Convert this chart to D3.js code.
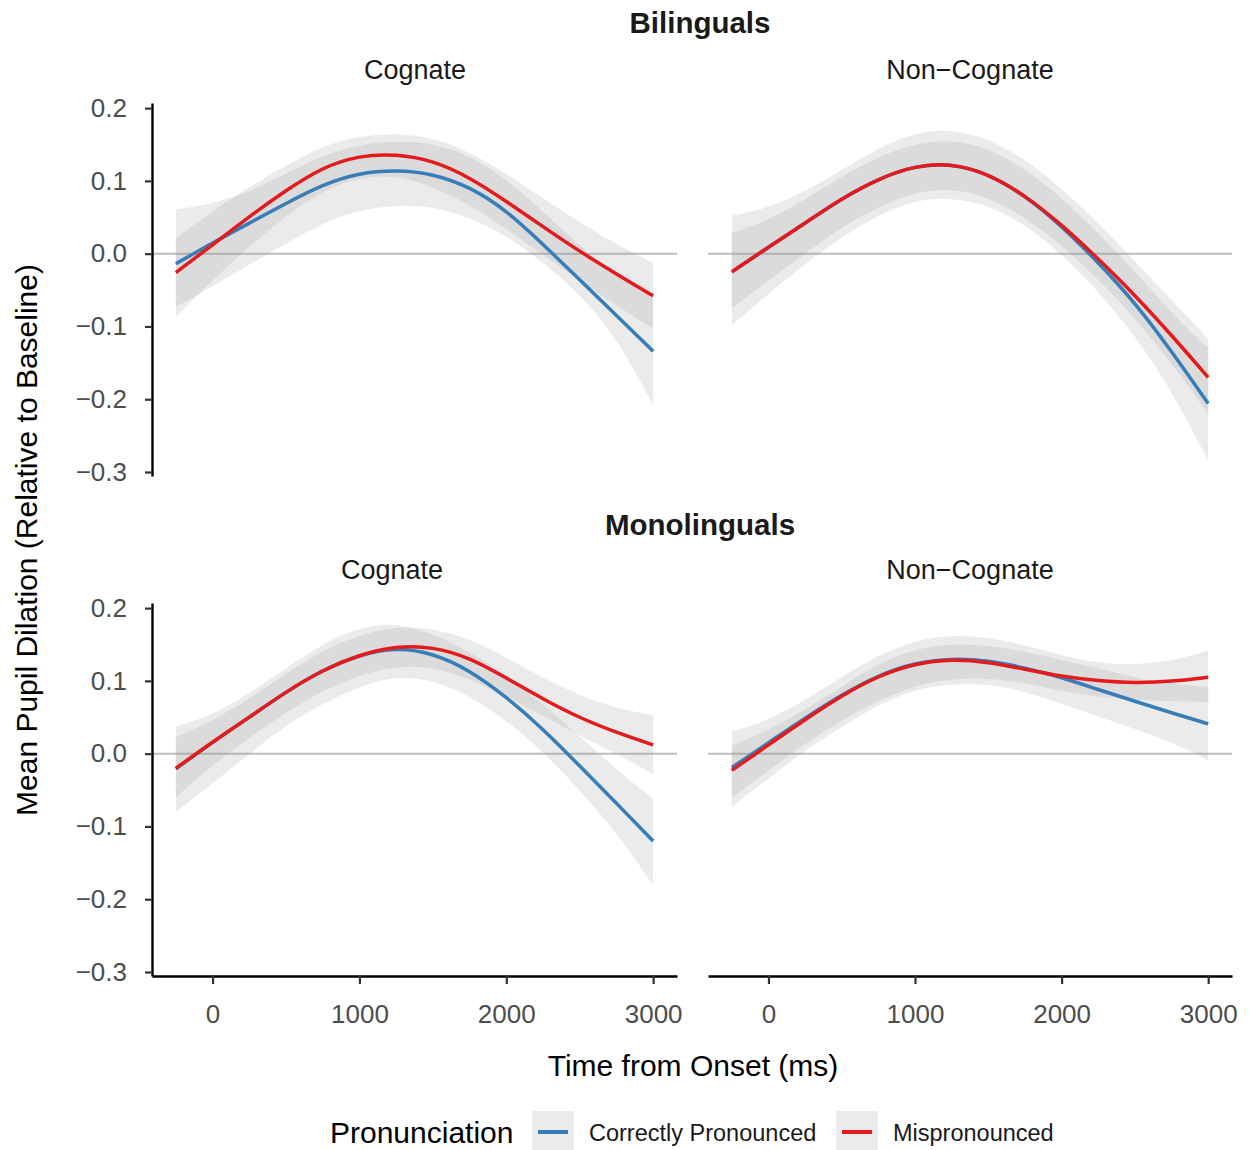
<!DOCTYPE html>
<html>
<head>
<meta charset="utf-8">
<script src="https://cdn.jsdelivr.net/npm/d3@7"></script>
<style>
  body { margin: 0; background: #fff; }
  text { font-family: "Liberation Sans", Arial, sans-serif; }
</style>
</head>
<body>
<div id="chart"></div>
<script>
const times = [-250, 0, 250, 500, 750, 1000, 1250, 1500, 1750, 2000, 2250, 2500, 2750, 3000];

// Bilinguals / Cognate
const biCogCorrect    = [-0.014, 0.015, 0.042, 0.069, 0.095, 0.111, 0.115, 0.110, 0.092, 0.060, 0.013, -0.036, -0.085, -0.134];
const biCogCorrectLo  = [-0.073, -0.045, -0.015, 0.014, 0.042, 0.060, 0.067, 0.065, 0.050, 0.025, -0.012, -0.055, -0.115, -0.208];
const biCogCorrectHi  = [0.061, 0.068, 0.085, 0.110, 0.135, 0.150, 0.155, 0.152, 0.135, 0.103, 0.058, 0.010, -0.030, -0.055];
const biCogMispron    = [-0.026, 0.012, 0.051, 0.087, 0.119, 0.135, 0.137, 0.128, 0.105, 0.072, 0.037, 0.003, -0.028, -0.058];
const biCogMispronLo  = [-0.087, -0.036, 0.010, 0.052, 0.087, 0.105, 0.108, 0.092, 0.068, 0.034, -0.002, -0.037, -0.072, -0.103];
const biCogMispronHi  = [0.021, 0.058, 0.092, 0.121, 0.148, 0.162, 0.165, 0.160, 0.140, 0.110, 0.076, 0.043, 0.013, -0.013];

// Bilinguals / Non-Cognate
const biNonCorrect    = [-0.025, 0.009, 0.042, 0.076, 0.103, 0.121, 0.124, 0.110, 0.080, 0.038, -0.012, -0.067, -0.134, -0.206];
const biNonCorrectLo  = [-0.098, -0.055, -0.014, 0.023, 0.053, 0.074, 0.077, 0.067, 0.040, 0.000, -0.052, -0.112, -0.188, -0.284];
const biNonCorrectHi  = [0.028, 0.046, 0.074, 0.106, 0.133, 0.152, 0.157, 0.145, 0.117, 0.077, 0.028, -0.024, -0.082, -0.130];
const biNonMispron    = [-0.025, 0.009, 0.042, 0.076, 0.103, 0.121, 0.124, 0.110, 0.080, 0.040, -0.007, -0.057, -0.112, -0.170];
const biNonMispronLo  = [-0.075, -0.037, 0.000, 0.037, 0.064, 0.085, 0.090, 0.078, 0.050, 0.012, -0.035, -0.088, -0.150, -0.220];
const biNonMispronHi  = [0.052, 0.063, 0.085, 0.115, 0.145, 0.167, 0.171, 0.158, 0.130, 0.090, 0.042, -0.010, -0.064, -0.117];

// Monolinguals / Cognate
const monoCogCorrect   = [-0.021, 0.016, 0.050, 0.085, 0.115, 0.136, 0.146, 0.138, 0.115, 0.078, 0.034, -0.017, -0.068, -0.120];
const monoCogCorrectLo = [-0.080, -0.041, 0.000, 0.039, 0.069, 0.092, 0.107, 0.101, 0.080, 0.046, 0.003, -0.050, -0.108, -0.181];
const monoCogCorrectHi = [0.037, 0.053, 0.083, 0.117, 0.151, 0.174, 0.180, 0.165, 0.140, 0.108, 0.068, 0.024, -0.022, -0.062];
const monoCogMispron   = [-0.020, 0.016, 0.050, 0.085, 0.115, 0.136, 0.148, 0.147, 0.132, 0.104, 0.075, 0.049, 0.029, 0.012];
const monoCogMispronLo = [-0.060, -0.015, 0.022, 0.057, 0.087, 0.108, 0.121, 0.119, 0.103, 0.079, 0.052, 0.025, 0.000, -0.028];
const monoCogMispronHi = [0.023, 0.045, 0.075, 0.110, 0.142, 0.163, 0.175, 0.172, 0.158, 0.132, 0.104, 0.080, 0.062, 0.053];

// Monolinguals / Non-Cognate
const monoNonCorrect   = [-0.019, 0.015, 0.049, 0.081, 0.108, 0.125, 0.131, 0.128, 0.118, 0.105, 0.088, 0.072, 0.056, 0.041];
const monoNonCorrectLo = [-0.073, -0.034, 0.005, 0.037, 0.067, 0.089, 0.096, 0.096, 0.085, 0.069, 0.051, 0.034, 0.016, -0.009];
const monoNonCorrectHi = [0.011, 0.032, 0.060, 0.092, 0.124, 0.144, 0.151, 0.149, 0.140, 0.129, 0.117, 0.104, 0.095, 0.092];
const monoNonMispron   = [-0.023, 0.012, 0.047, 0.080, 0.107, 0.124, 0.130, 0.126, 0.116, 0.106, 0.100, 0.097, 0.099, 0.105];
const monoNonMispronLo = [-0.060, -0.023, 0.014, 0.046, 0.073, 0.094, 0.103, 0.104, 0.097, 0.086, 0.078, 0.074, 0.072, 0.071];
const monoNonMispronHi = [0.030, 0.046, 0.073, 0.106, 0.135, 0.156, 0.163, 0.160, 0.149, 0.135, 0.124, 0.122, 0.127, 0.142];

const groups = ["Bilinguals", "Monolinguals"];
const wordTypes = ["Cognate", "Non\u2212Cognate"];
const pronunciations = ["Correctly Pronounced", "Mispronounced"];
const xTicks = [0, 1000, 2000, 3000];
const yTicks = [-0.3, -0.2, -0.1, 0, 0.1, 0.2];

const colors = {"Correctly Pronounced": "#377EB8", "Mispronounced": "#E41A1C"};

const panels = [
    {row: 0, col: 0, series: [[biCogCorrect, biCogCorrectLo, biCogCorrectHi], [biCogMispron, biCogMispronLo, biCogMispronHi]]},
    {row: 0, col: 1, series: [[biNonCorrect, biNonCorrectLo, biNonCorrectHi], [biNonMispron, biNonMispronLo, biNonMispronHi]]},
    {row: 1, col: 0, series: [[monoCogCorrect, monoCogCorrectLo, monoCogCorrectHi], [monoCogMispron, monoCogMispronLo, monoCogMispronHi]]},
    {row: 1, col: 1, series: [[monoNonCorrect, monoNonCorrectLo, monoNonCorrectHi], [monoNonMispron, monoNonMispronLo, monoNonMispronHi]]}
];

const W = 1250, H = 1150;
const colRanges = [[152, 677], [708, 1232]];
const rowRanges = [[476, 103], [976, 603]];
const stripCenters = [[415, 970], [392, 970]];

const svg = d3.select("#chart").append("svg")
    .attr("width", W).attr("height", H)
    .attr("viewBox", `0 0 ${W} ${H}`);

const xScales = colRanges.map(r => d3.scaleLinear().domain([-412.5, 3162.5]).range(r));
const yScales = rowRanges.map(r => d3.scaleLinear().domain([-0.3055, 0.207]).range(r));

function toRows(mean, lo, hi) {
    return times.map((t, i) => ({t: t, m: mean[i], lo: lo[i], hi: hi[i]}));
}

function drawPanel(p) {
    const x = xScales[p.col], y = yScales[p.row];
    const g = svg.append("g");

    // zero reference line
    g.append("line")
        .attr("x1", x.range()[0]).attr("x2", x.range()[1])
        .attr("y1", y(0)).attr("y2", y(0))
        .attr("stroke", "#bdbdbd").attr("stroke-width", 2);

    const area = d3.area()
        .x(d => x(d.t)).y0(d => y(d.lo)).y1(d => y(d.hi))
        .curve(d3.curveBasis);
    const line = d3.line()
        .x(d => x(d.t)).y(d => y(d.m))
        .curve(d3.curveBasis);

    const rows = p.series.map(s => toRows(s[0], s[1], s[2]));

    rows.forEach(r => {
        g.append("path").datum(r)
            .attr("d", area)
            .attr("fill", "#999999")
            .attr("fill-opacity", 0.2);
    });
    rows.forEach((r, i) => {
        g.append("path").datum(r)
            .attr("d", line)
            .attr("fill", "none")
            .attr("stroke", colors[pronunciations[i]])
            .attr("stroke-width", 3.5);
    });

    // strip label
    svg.append("text")
        .attr("x", stripCenters[p.row][p.col])
        .attr("y", p.row === 0 ? 79 : 579)
        .attr("text-anchor", "middle")
        .attr("font-size", 27)
        .attr("fill", "#1a1a1a")
        .text(wordTypes[p.col]);

    if (p.col === 0) {
        const yAxis = d3.axisLeft(y).tickValues(yTicks)
            .tickFormat(d3.format(".1f"))
            .tickSize(7).tickSizeOuter(0).tickPadding(18);
        const ga = svg.append("g")
            .attr("transform", `translate(${x.range()[0]},0)`)
            .call(yAxis);
        styleAxis(ga);
    }
    if (p.row === 1) {
        const xAxis = d3.axisBottom(x).tickValues(xTicks)
            .tickFormat(d3.format("d"))
            .tickSize(8).tickSizeOuter(0).tickPadding(21);
        const ga = svg.append("g")
            .attr("transform", `translate(0,${y.range()[0]})`)
            .call(xAxis);
        styleAxis(ga);
    }
}

function styleAxis(ga) {
    ga.select(".domain").attr("stroke", "#000").attr("stroke-width", 2.4);
    ga.selectAll(".tick line").attr("stroke", "#333").attr("stroke-width", 2.2);
    ga.selectAll(".tick text")
        .attr("font-size", 26)
        .attr("font-family", "Liberation Sans, Arial, sans-serif")
        .attr("fill", "#4d4d4d");
}

panels.forEach(drawPanel);

// group headings
groups.forEach((name, i) => {
    svg.append("text")
        .attr("x", 700).attr("y", i === 0 ? 33 : 535)
        .attr("text-anchor", "middle")
        .attr("font-size", 29.5)
        .attr("font-weight", "bold")
        .attr("fill", "#1a1a1a")
        .text(name);
});

// axis titles
svg.append("text")
    .attr("x", 693).attr("y", 1076)
    .attr("text-anchor", "middle")
    .attr("font-size", 30)
    .text("Time from Onset (ms)");

svg.append("text")
    .attr("transform", "translate(37,540) rotate(-90)")
    .attr("text-anchor", "middle")
    .attr("font-size", 30)
    .text("Mean Pupil Dilation (Relative to Baseline)");

// legend
const legend = svg.append("g");
legend.append("text")
    .attr("x", 330).attr("y", 1143)
    .attr("font-size", 30)
    .text("Pronunciation");

const keyX = [532, 836];
pronunciations.forEach((name, i) => {
    legend.append("rect")
        .attr("x", keyX[i]).attr("y", 1111)
        .attr("width", 42).attr("height", 41)
        .attr("fill", "#ebebeb");
    legend.append("line")
        .attr("x1", keyX[i] + 6).attr("x2", keyX[i] + 36)
        .attr("y1", 1132).attr("y2", 1132)
        .attr("stroke", colors[name]).attr("stroke-width", 4);
    legend.append("text")
        .attr("x", keyX[i] + 57).attr("y", 1141)
        .attr("font-size", 23.5)
        .attr("fill", "#1a1a1a")
        .text(name);
});
</script>
</body>
</html>
